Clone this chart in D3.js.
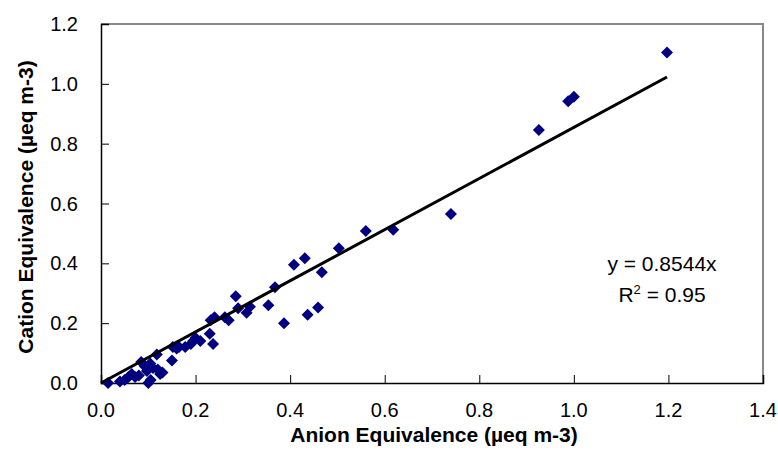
<!DOCTYPE html>
<html>
<head>
<meta charset="utf-8">
<script src="https://cdn.jsdelivr.net/npm/d3@7"></script>
<style>
  body { margin: 0; background: #fff; }
  text { font-family: "Liberation Sans", Arial, sans-serif; }
</style>
</head>
<body>
<script>
// anion equivalence (x) and cation equivalence (y), µeq m-3
const anion = [0.015, 0.04, 0.05, 0.058, 0.065, 0.072, 0.08, 0.085, 0.093, 0.097,
  0.1, 0.104, 0.105, 0.11, 0.118, 0.12, 0.125, 0.13, 0.15, 0.152,
  0.16, 0.165, 0.178, 0.19, 0.195, 0.2, 0.21, 0.23, 0.232, 0.237,
  0.24, 0.262, 0.27, 0.285, 0.29, 0.308, 0.315, 0.354, 0.368, 0.387,
  0.408, 0.431, 0.437, 0.459, 0.467, 0.503, 0.56, 0.618, 0.74, 0.926,
  0.988, 1.0, 1.197];
const cation = [0.0, 0.005, 0.01, 0.02, 0.03, 0.02, 0.025, 0.07, 0.055, 0.04,
  0.0, 0.065, 0.01, 0.05, 0.095, 0.045, 0.03, 0.035, 0.075, 0.12,
  0.115, 0.12, 0.12, 0.13, 0.14, 0.15, 0.14, 0.165, 0.21, 0.13,
  0.22, 0.22, 0.21, 0.29, 0.25, 0.235, 0.255, 0.26, 0.32, 0.2,
  0.395, 0.417, 0.228, 0.252, 0.37, 0.45, 0.508, 0.512, 0.565, 0.846,
  0.942, 0.957, 1.105];
const slope = 0.8544;
const xTicks = [0, 0.2, 0.4, 0.6, 0.8, 1.0, 1.2, 1.4];
const yTicks = [0, 0.2, 0.4, 0.6, 0.8, 1.0, 1.2];

const width = 778, height = 468;
const plotL = 101, plotR = 763, plotT = 24, plotB = 383;

const svg = d3.select("body").append("svg")
    .attr("width", width)
    .attr("height", height);

const x = d3.scaleLinear().domain([0, 1.4]).range([plotL, plotR]);
const y = d3.scaleLinear().domain([0, 1.2]).range([plotB, plotT]);

// plot frame (top/right grey)
svg.append("path")
    .attr("d", `M${plotL},${plotT}H${plotR}V${plotB}`)
    .attr("fill", "none")
    .attr("stroke", "#888")
    .attr("stroke-width", 2);

// axes, ticks inside
const xAxis = svg.append("g")
    .attr("transform", `translate(0,${plotB})`)
    .call(d3.axisTop(x).tickValues(xTicks).tickSize(8).tickFormat(""));
const yAxis = svg.append("g")
    .attr("transform", `translate(${plotL},0)`)
    .call(d3.axisRight(y).tickValues(yTicks).tickSize(8).tickFormat(""));
[xAxis, yAxis].forEach(g => {
    g.select(".domain").attr("stroke", "#000").attr("stroke-width", 1.5);
    g.selectAll(".tick line").attr("stroke", "#000").attr("stroke-width", 1);
});

// tick labels
svg.append("g").selectAll("text")
    .data(xTicks).join("text")
    .attr("x", d => x(d))
    .attr("y", plotB + 34)
    .attr("text-anchor", "middle")
    .attr("font-size", 20)
    .attr("fill", "#000")
    .text(d => d.toFixed(1));
svg.append("g").selectAll("text")
    .data(yTicks).join("text")
    .attr("x", plotL - 23)
    .attr("y", d => y(d) + 7)
    .attr("text-anchor", "end")
    .attr("font-size", 20)
    .attr("fill", "#000")
    .text(d => d.toFixed(1));

// axis titles
svg.append("text")
    .attr("x", 434)
    .attr("y", 442)
    .attr("text-anchor", "middle")
    .attr("font-size", 21)
    .attr("font-weight", "bold")
    .text("Anion Equivalence (µeq m-3)");
svg.append("text")
    .attr("transform", `translate(33,207) rotate(-90)`)
    .attr("text-anchor", "middle")
    .attr("font-size", 21)
    .attr("font-weight", "bold")
    .text("Cation Equivalence (µeq m-3)");

// points
const pts = anion.map((a, i) => [a, cation[i]]);
svg.append("g").selectAll("path")
    .data(pts).join("path")
    .attr("transform", d => `translate(${x(d[0])},${y(d[1])}) rotate(45)`)
    .attr("d", d3.symbol(d3.symbolSquare, 72))
    .attr("fill", "#000080");

// trend line through origin
const xMax = d3.max(anion);
svg.append("line")
    .attr("x1", x(0)).attr("y1", y(0))
    .attr("x2", x(xMax)).attr("y2", y(slope * xMax))
    .attr("stroke", "#000")
    .attr("stroke-width", 3);

// equation
svg.append("text")
    .attr("x", 662).attr("y", 271)
    .attr("text-anchor", "middle")
    .attr("font-size", 21)
    .text(`y = ${slope}x`);
const r2 = svg.append("text")
    .attr("x", 662).attr("y", 302)
    .attr("text-anchor", "middle")
    .attr("font-size", 21);
r2.append("tspan").text("R");
r2.append("tspan").attr("dy", -8).attr("font-size", 13).text("2");
r2.append("tspan").attr("dy", 8).text(" = 0.95");
</script>
</body>
</html>
